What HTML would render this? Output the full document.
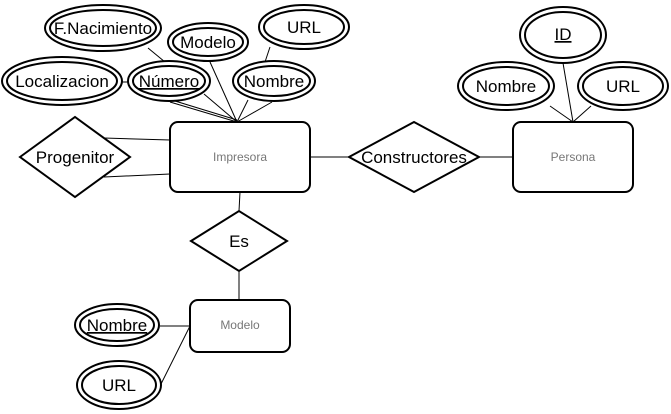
<!DOCTYPE html>
<html><head><style>html,body{margin:0;padding:0;background:#fff}svg{display:block}</style></head>
<body>
<svg width="671" height="414" viewBox="0 0 671 414" xmlns="http://www.w3.org/2000/svg" font-family="Liberation Sans, Arial, sans-serif">
<g stroke="#000" stroke-width="1" fill="none">
<line x1="104" y1="138" x2="170" y2="140"/>
<line x1="104" y1="177" x2="170" y2="174"/>
<line x1="310" y1="157" x2="349" y2="157"/>
<line x1="479" y1="157" x2="513" y2="157"/>
<line x1="240" y1="192" x2="239" y2="211"/>
<line x1="239" y1="271" x2="239" y2="300"/>
<line x1="148" y1="48" x2="165" y2="62"/>
<line x1="210" y1="62" x2="237" y2="122"/>
<line x1="204" y1="94" x2="237" y2="122"/>
<line x1="170" y1="102" x2="237" y2="122"/>
<line x1="175" y1="101" x2="237" y2="120"/>
<line x1="248" y1="100" x2="237" y2="122"/>
<line x1="272" y1="102" x2="237" y2="122"/>
<line x1="270" y1="47" x2="265" y2="62"/>
<line x1="122" y1="82" x2="128" y2="82"/>
<line x1="563" y1="63" x2="573" y2="122"/>
<line x1="550" y1="106" x2="573" y2="122"/>
<line x1="591" y1="106" x2="573" y2="122"/>
<line x1="160" y1="326" x2="190" y2="326"/>
<line x1="161" y1="384" x2="190" y2="326"/>
</g>
<g stroke="#000" stroke-width="2" fill="#fff">
<rect x="170" y="122" width="140" height="70" rx="8"/>
<rect x="513" y="122" width="120" height="70" rx="8"/>
<rect x="190" y="300" width="100" height="52" rx="8"/>
<polygon points="20,157 75,117 130,157 75,197"/>
<polygon points="349,157 414,122 479,157 414,192"/>
<polygon points="191,241 239,211 287,241 239,271"/>
<ellipse cx="103" cy="28" rx="58" ry="23"/><ellipse cx="103" cy="28" rx="53" ry="18"/>
<ellipse cx="208" cy="42" rx="40" ry="19"/><ellipse cx="208" cy="42" rx="35" ry="14"/>
<ellipse cx="304" cy="27" rx="45" ry="22"/><ellipse cx="304" cy="27" rx="40" ry="17"/>
<ellipse cx="62" cy="81" rx="60" ry="24"/><ellipse cx="62" cy="81" rx="55" ry="19"/>
<ellipse cx="169" cy="81" rx="41" ry="20"/><ellipse cx="169" cy="81" rx="36" ry="15"/>
<ellipse cx="274" cy="81" rx="41" ry="20"/><ellipse cx="274" cy="81" rx="36" ry="15"/>
<ellipse cx="563" cy="35" rx="43" ry="28"/><ellipse cx="563" cy="35" rx="38" ry="23"/>
<ellipse cx="506" cy="86" rx="48" ry="24"/><ellipse cx="506" cy="86" rx="43" ry="19"/>
<ellipse cx="623" cy="86" rx="45" ry="24"/><ellipse cx="623" cy="86" rx="40" ry="19"/>
<ellipse cx="117" cy="325" rx="42" ry="21"/><ellipse cx="117" cy="325" rx="37" ry="16"/>
<ellipse cx="119" cy="385" rx="42" ry="24"/><ellipse cx="119" cy="385" rx="37" ry="19"/>
</g>
<g font-size="17" text-anchor="middle" fill="#000">
<text x="103" y="34">F.Nacimiento</text>
<text x="208" y="48">Modelo</text>
<text x="304" y="33">URL</text>
<text x="62" y="87">Localizacion</text>
<text x="169" y="87" text-decoration="underline">Número</text>
<text x="274" y="87">Nombre</text>
<text x="563" y="40" text-decoration="underline">ID</text>
<text x="506" y="92">Nombre</text>
<text x="623" y="92">URL</text>
<text x="117" y="331" text-decoration="underline">Nombre</text>
<text x="119" y="391">URL</text>
<text x="75" y="163">Progenitor</text>
<text x="414" y="163">Constructores</text>
<text x="239" y="247">Es</text>
</g>
<g font-size="12" text-anchor="middle" fill="#777">
<text x="240" y="161">Impresora</text>
<text x="573" y="161">Persona</text>
<text x="240" y="329">Modelo</text>
</g>
</svg>
</body></html>
